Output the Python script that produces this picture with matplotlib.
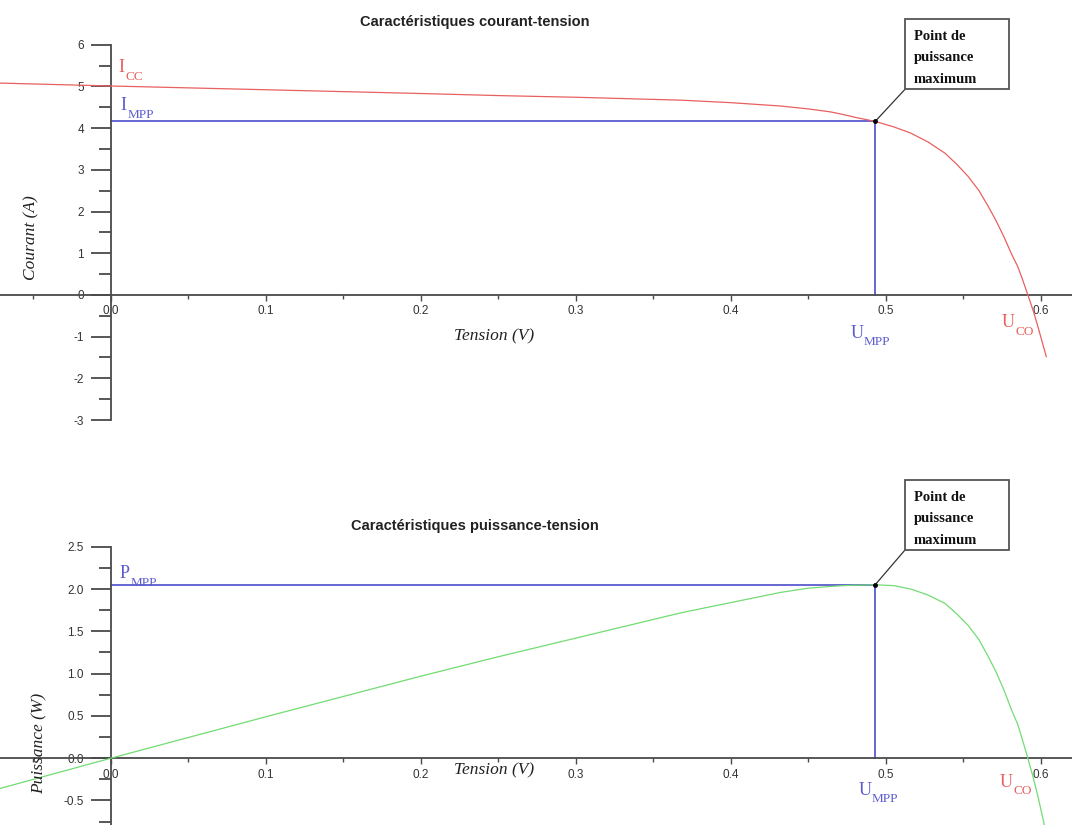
import matplotlib
matplotlib.use('Agg')
import matplotlib.pyplot as plt
from matplotlib.ticker import MultipleLocator, FuncFormatter
from matplotlib.patches import Rectangle

# ---- data ----
tension = [-0.072, 0.0, 0.1, 0.2, 0.25, 0.3, 0.368, 0.4, 0.432, 0.45, 0.464, 0.472,
           0.48, 0.493, 0.505, 0.516, 0.527, 0.538, 0.546, 0.553, 0.56, 0.566,
           0.571, 0.576, 0.581, 0.585, 0.588, 0.5915, 0.595, 0.598, 0.6034]
courant = [5.08, 5.01, 4.92, 4.83, 4.78, 4.74, 4.67, 4.61, 4.53, 4.46, 4.39, 4.33,
           4.26, 4.16, 4.03, 3.88, 3.67, 3.40, 3.12, 2.84, 2.50, 2.12,
           1.78, 1.40, 0.98, 0.68, 0.38, 0.0, -0.38, -0.76, -1.48]
puissance = [-0.36, 0.0, 0.49, 0.97, 1.20, 1.42, 1.72, 1.84, 1.96, 2.01, 2.03, 2.04,
             2.045, 2.05, 2.04, 2.00, 1.93, 1.83, 1.70, 1.57, 1.40, 1.20,
             1.02, 0.81, 0.57, 0.40, 0.22, 0.0, -0.23, -0.45, -0.89]
u_mpp = 0.493
i_mpp = 4.16
p_mpp = 2.05

titles = ["Caractéristiques courant-tension", "Caractéristiques puissance-tension"]
ylabels = ["Courant (A)", "Puissance (W)"]
xlabel = "Tension (V)"
box_lines = ["Point de", "puissance", "maximum"]

plt.rcParams['font.family'] = ['Liberation Sans', 'DejaVu Sans']

W, H = 1072, 825
fig = plt.figure(figsize=(W / 100, H / 100), dpi=100)


def fx(px):
    return px / W


def fy(py):
    return 1 - py / H


RED = '#e8605f'
BLUE = '#5b5bcf'
GREEN = '#72dc72'
AXC = '#4a4a4a'


def setup(ax, ylim, ymaj, ymin, fmt):
    ax.set_xlim(-0.0716, 0.620)
    ax.set_ylim(*ylim)
    ax.patch.set_alpha(0)
    for s in ['top', 'right']:
        ax.spines[s].set_visible(False)
    ax.spines['left'].set_position(('data', 0))
    ax.spines['bottom'].set_position(('data', 0))
    for s in ['left', 'bottom']:
        ax.spines[s].set_color(AXC)
        ax.spines[s].set_linewidth(1.3)
    ax.xaxis.set_major_locator(MultipleLocator(0.1))
    ax.xaxis.set_minor_locator(MultipleLocator(0.05))
    ax.yaxis.set_major_locator(MultipleLocator(ymaj))
    ax.yaxis.set_minor_locator(MultipleLocator(ymin))
    ax.xaxis.set_major_formatter(FuncFormatter(lambda v, p: f'{round(v, 2) + 0.0:.1f}'))
    ax.yaxis.set_major_formatter(FuncFormatter(lambda v, p: fmt.format(round(v, 2) + 0.0)))
    ax.tick_params(axis='x', which='major', direction='out', length=4.5, width=1,
                   color=AXC, pad=3, labelsize=8.5, labelcolor='#333333')
    ax.tick_params(axis='x', which='minor', direction='out', length=3, width=1, color=AXC)
    ax.tick_params(axis='y', which='major', direction='out', length=14.5, width=1.3,
                   color=AXC, pad=5, labelsize=8.5, labelcolor='#333333')
    ax.tick_params(axis='y', which='minor', direction='out', length=8.5, width=1.3, color=AXC)


ax1 = fig.add_axes([0, 0.4909, 1, 0.4549])
setup(ax1, (-3, 6), 1, 0.5, '{:.0f}')
ax2 = fig.add_axes([0, 0.0, 1, 0.3373])
setup(ax2, (-0.79, 2.5), 0.5, 0.25, '{:.1f}')

# top: I-V
ax1.plot(tension, courant, color=RED, lw=0.9, zorder=3)
ax1.plot([0, u_mpp], [i_mpp, i_mpp], color=BLUE, lw=1.3, zorder=2)
ax1.plot([u_mpp, u_mpp], [0, i_mpp], color=BLUE, lw=1.3, zorder=2)
ax1.plot([u_mpp], [i_mpp], 'o', color='black', ms=2.5, zorder=4)

# bottom: P-V
ax2.plot(tension, puissance, color=GREEN, lw=0.9, zorder=3)
ax2.plot([0, u_mpp], [p_mpp, p_mpp], color=BLUE, lw=1.3, zorder=2)
ax2.plot([u_mpp, u_mpp], [0, p_mpp], color=BLUE, lw=1.3, zorder=2)
ax2.plot([u_mpp], [p_mpp], 'o', color='black', ms=2.5, zorder=4)

# titles and axis labels
for ty, t in zip([22, 526], titles):
    fig.text(fx(475), fy(ty), t, ha='center', va='center', fontsize=10.5,
             fontweight='bold', family='Liberation Sans', color='#222222')
for (px, py), t in zip([(31, 238), (39, 743)], ylabels):
    fig.text(fx(px), fy(py), t, ha='center', va='center', rotation=90,
             fontsize=12.5, style='italic', family='Liberation Serif', color='#222222')
for py in [336, 770]:
    fig.text(fx(494), fy(py), xlabel, ha='center', va='center',
             fontsize=12.5, style='italic', family='Liberation Serif', color='#222222')


# coloured labels: main letter + lowered subscript
def label(x, y, main, sub, color, sub_dx):
    fig.text(fx(x), fy(y), main, color=color, fontsize=13, va='baseline', ha='left',
             family='Liberation Serif')
    fig.text(fx(x + sub_dx), fy(y + 7.5), sub, color=color, fontsize=9.5, va='baseline',
             ha='left', family='Liberation Serif')


label(118, 72, 'I', 'CC', RED, 7.5)
label(120, 110, 'I', 'MPP', BLUE, 7.5)
label(851, 338, 'U', 'MPP', BLUE, 13)
label(1002, 327, 'U', 'CO', RED, 13)
label(120, 578, 'P', 'MPP', BLUE, 10.5)
label(859, 795, 'U', 'MPP', BLUE, 13)
label(1000, 787, 'U', 'CO', RED, 13)

# annotation boxes
for ax, yval, top in [(ax1, i_mpp, 19.3), (ax2, p_mpp, 480)]:
    bottom = top + 70
    fig.patches.append(Rectangle((fx(905), fy(bottom)), fx(1009) - fx(905), fy(top) - fy(bottom),
                                 transform=fig.transFigure, facecolor='white',
                                 edgecolor='#555555', lw=1.3, zorder=5))
    for k, line in enumerate(box_lines):
        fig.text(fx(914), fy(top + 20.7 + 21.5 * k), line, ha='left', va='baseline',
                 fontsize=10.5, fontweight='bold', family='Liberation Serif',
                 color='#111111', zorder=6)
    ax.annotate('', xy=(u_mpp, yval), xycoords='data',
                xytext=(fx(905), fy(bottom)), textcoords='figure fraction',
                arrowprops=dict(arrowstyle='-', color='#333333', lw=0.9,
                                shrinkA=0, shrinkB=0), annotation_clip=False)

fig.savefig('out.png', dpi=100, facecolor='white')
